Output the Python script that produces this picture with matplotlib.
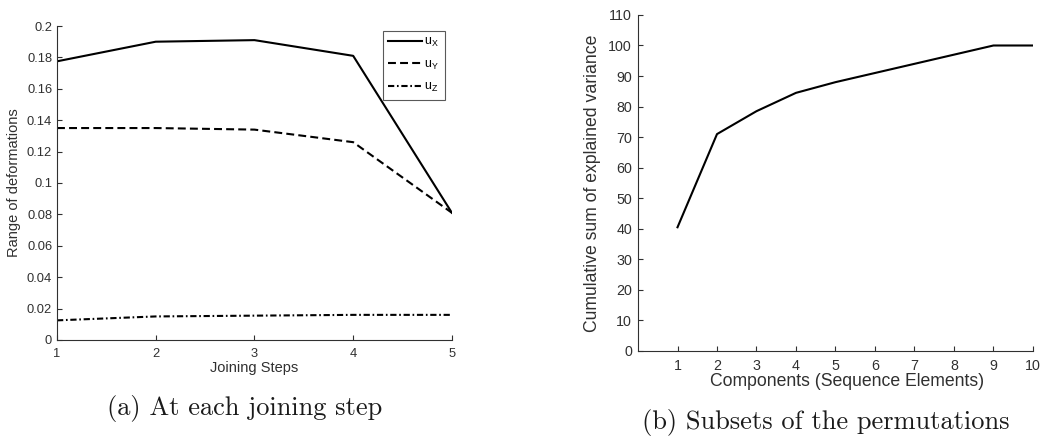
import matplotlib
matplotlib.use('Agg')
import matplotlib.pyplot as plt
import numpy as np

plt.rcParams['font.family'] = ['Liberation Sans', 'DejaVu Sans']
plt.rcParams['mathtext.fontset'] = 'custom'
plt.rcParams['mathtext.rm'] = 'Liberation Sans'

# (a) range of deformations at each joining step
steps = [1, 2, 3, 4, 5]
u_x = [0.1775, 0.190, 0.191, 0.181, 0.081]
u_y = [0.135, 0.135, 0.134, 0.126, 0.081]
u_z = [0.0125, 0.015, 0.0155, 0.016, 0.016]

# (b) cumulative explained variance
components = [1, 2, 3, 4, 5, 6, 7, 8, 9, 10]
cum_var = [40.5, 71.0, 78.5, 84.5, 88.0, 91.0, 94.0, 97.0, 100.0, 100.0]

grey = '#303030'

def matlab_style(ax, fs, xpad, ypad):
    ax.spines['top'].set_visible(False)
    ax.spines['right'].set_visible(False)
    for s in ('left', 'bottom'):
        ax.spines[s].set_color(grey)
        ax.spines[s].set_linewidth(0.8)
    ax.tick_params(direction='in', length=3.5, width=0.8, colors=grey,
                   labelsize=fs, labelcolor=grey)
    ax.tick_params(axis='x', pad=xpad)
    ax.tick_params(axis='y', pad=ypad)

fig = plt.figure(figsize=(10.42, 4.37), dpi=100)

ax1 = fig.add_axes([0.0547, 0.222, 0.379, 0.7185])
ax1.plot(steps, u_x, '-', color='black', lw=1.5, label=r'u$_\mathregular{X}$')
ax1.plot(steps, u_y, color='black', lw=1.5, dashes=(3.8, 2.0),
         label=r'u$_\mathregular{Y}$')
ax1.plot(steps, u_z, color='black', lw=1.5, dashes=(3.0, 1.3, 0.8, 1.3),
         label=r'u$_\mathregular{Z}$')
ax1.set_xlim(1, 5)
ax1.set_ylim(0, 0.2)
ax1.set_xticks(steps)
ax1.set_yticks(np.arange(0, 0.201, 0.02))
ax1.set_yticklabels(['0', '0.02', '0.04', '0.06', '0.08', '0.1', '0.12',
                     '0.14', '0.16', '0.18', '0.2'])
matlab_style(ax1, 9.3, 5.5, 3.5)
ax1.set_xlabel('Joining Steps', fontsize=10.5, color=grey, labelpad=1)
ax1.set_ylabel('Range of deformations', fontsize=10.5, color=grey, labelpad=4)
leg = ax1.legend(loc='upper right', fontsize=9, frameon=True, fancybox=False,
                 edgecolor=grey, handlelength=2.7, handletextpad=0.2,
                 borderpad=0.45, labelspacing=0.75, borderaxespad=0,
                 bbox_to_anchor=(0.982, 0.985))
leg.get_frame().set_linewidth(0.8)

ax2 = fig.add_axes([0.6123, 0.1968, 0.379, 0.769])
ax2.plot(components, cum_var, '-', color='black', lw=1.5)
ax2.set_xlim(0, 10)
ax2.set_ylim(0, 110)
ax2.set_xticks(components)
ax2.set_yticks(np.arange(0, 111, 10))
matlab_style(ax2, 10.3, 5.5, 4.3)
ax2.set_xlabel('Components (Sequence Elements)', fontsize=12.7, color=grey, labelpad=0.5)
ax2.xaxis.label.set_x(0.53)
ax2.set_ylabel('Cumulative sum of explained variance', fontsize=12.7, color=grey, labelpad=5)

fig.text(0.235, 0.066, '(a) At each joining step', family='cmr10',
         fontsize=19, ha='center', va='center', color='#1a1a1a')
fig.text(0.792, 0.034, '(b) Subsets of the permutations', family='cmr10',
         fontsize=19, ha='center', va='center', color='#1a1a1a')

fig.savefig('out.png', dpi=100)
